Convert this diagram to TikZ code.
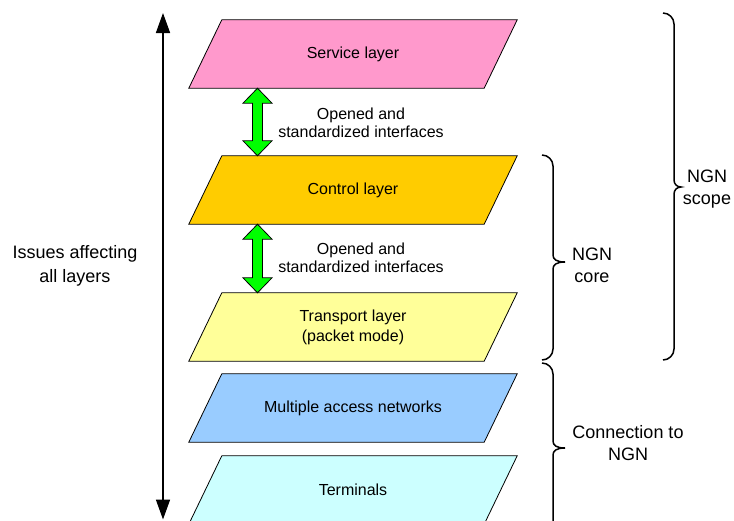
\documentclass[tikz,border=0pt]{standalone}
\usepackage{fontspec}
\setmainfont{Liberation Sans}
\usetikzlibrary{arrows.meta,backgrounds,calc}

\definecolor{servicefill}{HTML}{FF99CC}
\definecolor{controlfill}{HTML}{FFCC00}
\definecolor{transportfill}{HTML}{FFFF99}
\definecolor{accessfill}{HTML}{99CCFF}
\definecolor{terminalfill}{HTML}{CCFFFF}
\definecolor{ifacegreen}{HTML}{00FF00}

% slanted layer drawn around a (text-only) layer node
\newcommand\slantlayer[2]{%
  \draw[layeredge, fill=#2]
    ([xshift=16.5pt]#1.north west) -- ([xshift=16.5pt]#1.north east)
    -- ([xshift=-16.5pt]#1.south east) -- ([xshift=-16.5pt]#1.south west) -- cycle;}

% green two-headed block arrow between two layers
\newcommand\ifacearrow[2]{%
  \draw[ifaceedge] let \p1=(#1.south -| ax), \p2=(#2.north -| ax) in
    (\p1) -- (\x1+14.5pt,\y1-15pt) -- (\x1+5pt,\y1-15pt) -- (\x1+5pt,\y2+15pt)
    -- (\x1+14.5pt,\y2+15pt) -- (\p2) -- (\x1-14.5pt,\y2+15pt) -- (\x1-5pt,\y2+15pt)
    -- (\x1-5pt,\y1-15pt) -- (\x1-14.5pt,\y1-15pt) -- cycle;}

% right-facing curly brace: end x, top y, bottom y, tip y, tip reach
\newcommand\sidebrace[5]{%
  \pgfmathsetmacro\brSpine{#1+11}%
  \pgfmathsetmacro\brTip{#1+11+#5}%
  \draw[bracepen] (#1,#2) .. controls (#1+6,#2) and (\brSpine,#2+5) .. (\brSpine,#2+11)
    -- (\brSpine,#4-7) .. controls (\brSpine,#4-3) and (\brSpine+3,#4) .. (\brTip,#4)
    .. controls (\brSpine+3,#4) and (\brSpine,#4+3) .. (\brSpine,#4+7)
    -- (\brSpine,#3-11) .. controls (\brSpine,#3-5) and (#1+6,#3) .. (#1,#3);}

\begin{document}
\begin{tikzpicture}[x=1pt,y=-1pt,
  layer/.style={minimum width=295pt, minimum height=68pt, inner sep=0pt,
    align=center, font=\fontsize{16}{20}\selectfont},
  note/.style={align=center, inner sep=0pt, font=\fontsize{16}{18.5}\selectfont},
  side/.style={align=center, inner sep=0pt, font=\fontsize{18}{22}\selectfont},
  layeredge/.style={draw=black, line width=0.8pt, line join=miter},
  ifaceedge/.style={draw=black, fill=ifacegreen, line width=0.8pt, line join=miter},
  bracepen/.style={line width=1.5pt},
  spanarrow/.style={line width=1.6pt,
    {Triangle[length=20pt,width=14pt]}-{Triangle[length=20pt,width=14pt]}}]

\useasboundingbox (0,0) rectangle (734,520);
\clip (0,0) rectangle (734,520);

% layer stack
\node[layer] (svc)  at (353,54)  {Service layer};
\node[layer] (ctl)  at (353,190) {Control layer};
\node[layer] (trp)  at (353,327) {Transport layer\\(packet mode)};
\node[layer] (acc)  at (353,408) {Multiple access networks};
\node[layer] (term) at (353,490) {Terminals};

\begin{scope}[on background layer]
  \slantlayer{svc}{servicefill}
  \slantlayer{ctl}{controlfill}
  \slantlayer{trp}{transportfill}
  \slantlayer{acc}{accessfill}
  \slantlayer{term}{terminalfill}
\end{scope}

% interfaces between layers
\coordinate (ax) at (257.5,0);
\ifacearrow{svc}{ctl}
\ifacearrow{ctl}{trp}
\node[note] (if1) at (361,123) {Opened and\\standardized interfaces};
\node[note] (if2) at (361,258) {Opened and\\standardized interfaces};

% issues spanning every layer
\coordinate (vtop) at (163,13);
\coordinate (vbot) at (163,519.5);
\draw[spanarrow] (vtop) -- (vbot);
\node[side, font=\fontsize{18}{24}\selectfont] (issues) at (75,266) {Issues affecting\\all layers};

% grouping braces
\sidebrace{663}{13}{360}{187}{7}
\sidebrace{542}{155}{360}{262}{12}
\sidebrace{542}{363}{533}{448}{12}
\node[side] (scope) at (707,189) {NGN\\scope};
\node[side] (core)  at (592,265) {NGN\\core};
\node[side] (conn)  at (628,443) {Connection to\\NGN};

\end{tikzpicture}
\end{document}
